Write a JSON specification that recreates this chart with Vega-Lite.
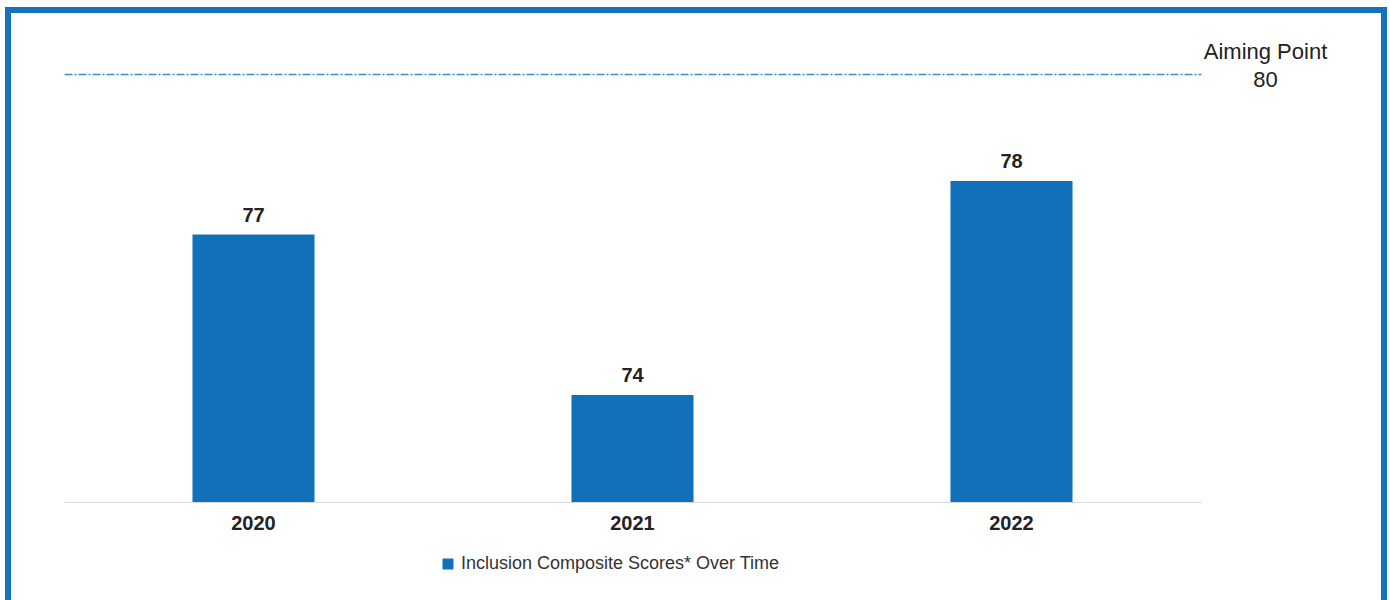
{
  "$schema": "https://vega.github.io/schema/vega-lite/v6.json",
  "width": 1376,
  "height": 640,
  "autosize": {"type": "none"},
  "padding": {"left": 8, "top": 10, "right": 6, "bottom": 0},
  "background": "white",
  "config": {
    "view": {"stroke": "#1672BC", "strokeWidth": 6},
    "font": "Liberation Sans"
  },
  "data": {
    "values": [
      {"year": "2020", "score": 77, "series": "Inclusion Composite Scores* Over Time"},
      {"year": "2021", "score": 74, "series": "Inclusion Composite Scores* Over Time"},
      {"year": "2022", "score": 78, "series": "Inclusion Composite Scores* Over Time"}
    ]
  },
  "encoding": {
    "x": {
      "field": "year",
      "type": "nominal",
      "scale": {"range": [56, 1193], "paddingInner": 0.678, "paddingOuter": 0.339},
      "axis": {
        "title": null,
        "labelAngle": 0,
        "labelFontSize": 20,
        "labelFontWeight": "bold",
        "labelColor": "#222222",
        "ticks": false,
        "domainColor": "#d9d9d9",
        "domainWidth": 1,
        "labelPadding": 11,
        "offset": -148,
        "grid": false
      }
    },
    "y": {
      "field": "score",
      "type": "quantitative",
      "scale": {"domain": [72, 80], "range": [492, 64], "zero": false, "nice": false},
      "axis": {
        "orient": "left",
        "values": [80],
        "grid": true,
        "gridColor": "#3a8fd8",
        "gridDash": [8, 2, 2, 2],
        "gridWidth": 1.5,
        "ticks": false,
        "domain": false,
        "labels": false,
        "title": ["Aiming Point", "80"],
        "titleAngle": 0,
        "titleAlign": "center",
        "titleBaseline": "middle",
        "titleFontSize": 22,
        "titleFontWeight": "normal",
        "titleLineHeight": 28,
        "titleColor": "#222222",
        "titleX": 1257,
        "titleY": 41
      }
    }
  },
  "layer": [
    {
      "mark": {"type": "bar"},
      "encoding": {
        "y2": {"datum": 72},
        "color": {
          "field": "series",
          "type": "nominal",
          "scale": {"range": ["#1170BA"]},
          "legend": {
            "title": null,
            "orient": "none",
            "legendX": 431,
            "legendY": 545,
            "symbolType": "square",
            "symbolSize": 121,
            "symbolStrokeWidth": 0,
            "symbolOpacity": 1,
            "labelFontSize": 18,
            "labelColor": "#333333",
            "labelOffset": 4,
            "labelLimit": 0,
            "padding": 0
          }
        }
      }
    },
    {
      "mark": {"type": "text", "fontSize": 20, "fontWeight": "bold", "color": "#222222", "baseline": "alphabetic", "dy": -13},
      "encoding": {
        "text": {"field": "score", "type": "quantitative"}
      }
    }
  ]
}
